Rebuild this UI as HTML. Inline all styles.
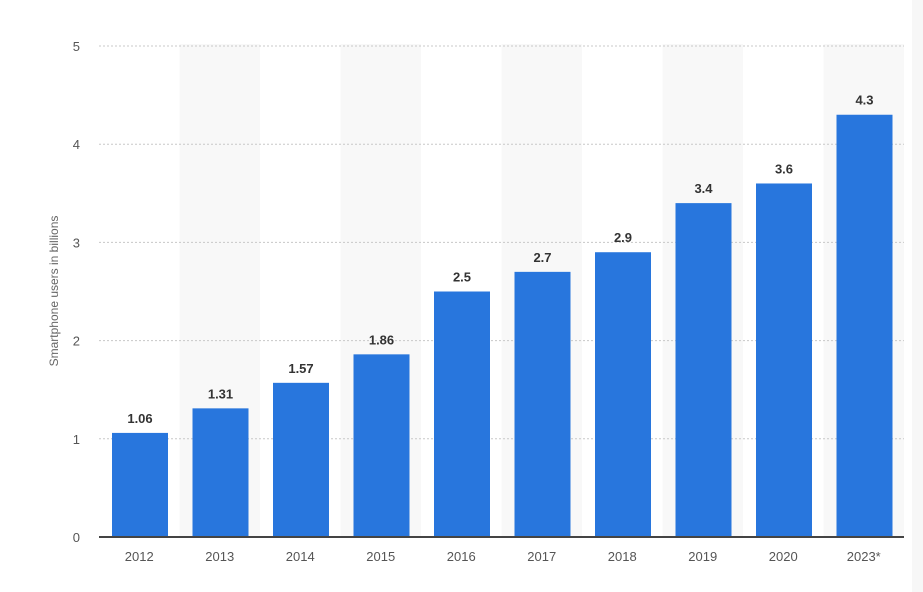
<!DOCTYPE html>
<html><head><meta charset="utf-8"><style>
html,body{margin:0;padding:0;background:#fff;}
svg{display:block;font-family:"Liberation Sans",sans-serif;}
</style></head><body>
<svg id="chart" width="923" height="592" viewBox="0 0 923 592">
<rect x="0" y="0" width="923" height="592" fill="#fff"/>
<rect x="912" y="0" width="11" height="592" fill="#f7f7f7"/>
<g id="bands"></g><g id="grid"></g><g id="bars"></g><g id="labels"></g><g id="axes"></g>
<text transform="translate(58,291) rotate(-90)" text-anchor="middle" font-size="12" fill="#666">Smartphone users in billions</text>
</svg>
<script>
const categories=["2012","2013","2014","2015","2016","2017","2018","2019","2020","2023*"];
const values=[1.06,1.31,1.57,1.86,2.5,2.7,2.9,3.4,3.6,4.3];
const valueLabels=["1.06","1.31","1.57","1.86","2.5","2.7","2.9","3.4","3.6","4.3"];
const yTicks=[0,1,2,3,4,5];
const NS="http://www.w3.org/2000/svg";
const X0=99,X1=904,Y0=537,Y1=46,YMAX=5;
const bw=(X1-X0)/categories.length;
const y=v=>Y0-(v/YMAX)*(Y0-Y1);
const xb=i=>X0+i*bw;
function mk(tag,attrs,parent,txt){const e=document.createElementNS(NS,tag);for(const k in attrs)e.setAttribute(k,attrs[k]);if(txt!==undefined)e.textContent=txt;document.getElementById(parent).appendChild(e);return e;}
categories.forEach((c,i)=>{if(i%2===1){const r=mk('rect',{x:xb(i),y:Y1-2,width:bw,height:Y0-Y1+2,fill:'#f8f8f8'},'bands');

}});
yTicks.forEach(t=>{if(t>0){const l=mk('line',{x1:X0,x2:X1,y1:y(t),y2:y(t),stroke:'#c8c8c8','stroke-dasharray':'2,2'},'grid');

}
const tx=mk('text',{x:80,y:y(t)+5,'text-anchor':'end','font-size':13,fill:'#555'},'axes',String(t));

});
categories.forEach((c,i)=>{const x=xb(i)+13,w=bw-24.5;
const b=mk('rect',{x:x,y:y(values[i]),width:w,height:Y0-y(values[i]),fill:'#2876dd'},'bars');


const lb=mk('text',{x:x+w/2,y:y(values[i])-10,'text-anchor':'middle','font-size':13,'font-weight':'bold',fill:'#333'},'labels',valueLabels[i]);


const xt=mk('text',{x:xb(i)+bw/2,y:561,'text-anchor':'middle','font-size':13,fill:'#555'},'axes',c);

});
const ax=mk('line',{x1:X0,x2:X1,y1:Y0,y2:Y0,stroke:'#444','stroke-width':2},'axes');


</script>
</body></html>
